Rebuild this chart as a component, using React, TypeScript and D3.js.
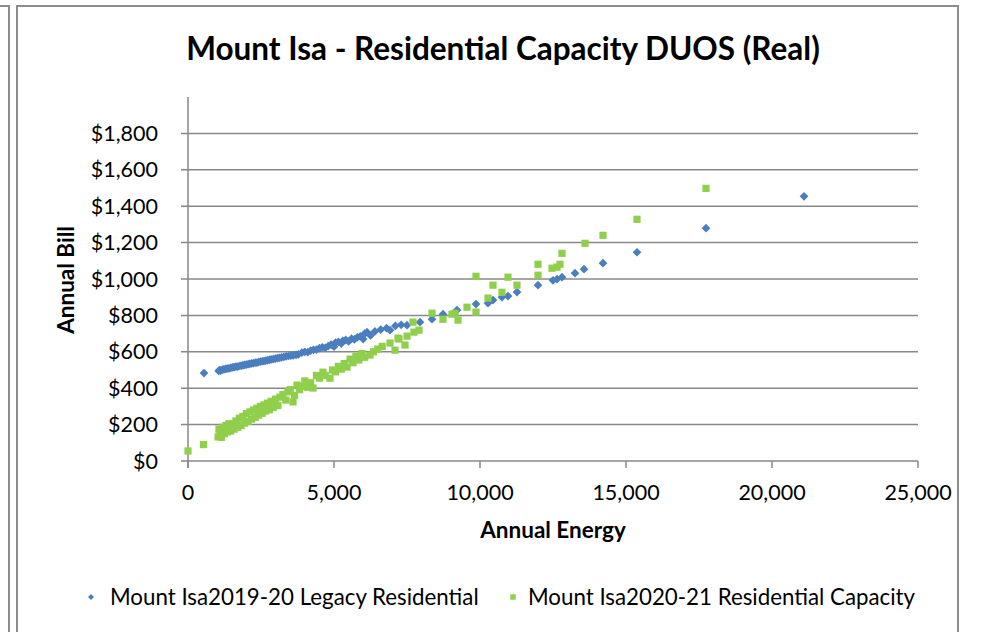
import React from "react";
import * as d3 from "d3";

const title = "Mount Isa - Residential Capacity DUOS (Real)";
const xLabel = "Annual Energy";
const yLabel = "Annual Bill";
const seriesNames = ["Mount Isa2019-20 Legacy Residential", "Mount Isa2020-21 Residential Capacity"];
const xTicks = [0, 5000, 10000, 15000, 20000, 25000];
const yTicks = [0, 200, 400, 600, 800, 1000, 1200, 1400, 1600, 1800];

// 2019-20 legacy residential: [annual energy, annual bill]
const legacy: [number, number][] = [
  [548, 483],
  [1050, 495], [1090, 500], [1120, 497], [1180, 502], [1230, 504], [1290, 506], [1340, 508],
  [1400, 509], [1460, 512], [1520, 514], [1580, 516], [1640, 518], [1700, 519], [1760, 522],
  [1820, 524], [1880, 526], [1940, 528], [2000, 529], [2060, 532], [2120, 534], [2180, 536],
  [2240, 537], [2300, 540], [2360, 541], [2420, 544], [2480, 546], [2540, 548], [2600, 549],
  [2660, 552], [2720, 553], [2790, 556], [2850, 558], [2920, 560], [2990, 562], [3060, 565],
  [3130, 567], [3200, 569], [3280, 572], [3360, 575], [3440, 577], [3520, 579], [3600, 580],
  [3700, 583], [3780, 586], [3900, 595], [4000, 600], [4100, 598], [4200, 606], [4300, 611],
  [4400, 612], [4500, 620], [4600, 625], [4700, 622], [4800, 631], [4900, 640], [5000, 628],
  [5050, 650], [5150, 655], [5250, 645], [5300, 660], [5400, 665], [5500, 657], [5600, 672],
  [5700, 668], [5800, 680], [5900, 685], [6000, 670], [6050, 700], [6130, 708], [6250, 690],
  [6400, 712], [6600, 722], [6800, 730], [6918, 719], [7100, 742], [7300, 748], [7500, 746],
  [7945, 763], [8356, 779], [8733, 807], [9212, 829], [9863, 862], [10274, 867], [10445, 884],
  [10753, 900], [10959, 906], [11267, 928], [11986, 966], [12500, 993], [12637, 999],
  [12808, 1010], [13253, 1032], [13562, 1054], [14212, 1087], [15377, 1147], [17740, 1279],
  [21096, 1454],
];

// 2020-21 residential capacity: [annual energy, annual bill]
const capacity: [number, number][] = [
  [0, 55], [530, 90],
  [1030, 132], [1060, 175], [1100, 150], [1150, 130], [1200, 185], [1250, 150], [1300, 195],
  [1350, 160], [1400, 205], [1460, 165], [1520, 200], [1580, 175], [1640, 220], [1700, 185],
  [1760, 235], [1820, 195], [1880, 245], [1940, 208], [2000, 260], [2060, 218], [2120, 270],
  [2180, 230], [2240, 280], [2300, 240], [2360, 290], [2420, 252], [2480, 300], [2540, 262],
  [2600, 308], [2660, 275], [2720, 318], [2790, 282], [2850, 328], [2920, 295], [3000, 340],
  [3080, 305], [3151, 351], [3250, 365], [3350, 335], [3420, 380], [3500, 392], [3596, 325],
  [3650, 360], [3733, 417], [3820, 392], [3900, 410], [4000, 440], [4100, 405], [4200, 430],
  [4281, 401], [4400, 470], [4500, 455], [4623, 488], [4700, 470], [4863, 455], [4950, 500],
  [5050, 490], [5150, 520], [5250, 505], [5350, 535], [5445, 516], [5550, 560], [5650, 540],
  [5750, 575], [5850, 555], [5950, 590], [6050, 570], [6233, 582], [6350, 600], [6500, 615],
  [6650, 630], [6918, 648], [7089, 609], [7192, 675], [7226, 670], [7432, 637], [7500, 686],
  [7705, 763], [7740, 708], [7911, 719], [8356, 812], [8733, 779], [9041, 807], [9144, 812],
  [9247, 774], [9555, 845], [9863, 1015], [9863, 818], [10274, 895], [10445, 966],
  [10753, 927], [10959, 1010], [11267, 966], [11986, 1081], [11986, 1021], [12466, 1059],
  [12637, 1065], [12740, 1081], [12808, 1141], [13596, 1196], [14212, 1240], [15377, 1328],
  [17740, 1498],
];

const BLUE = "#4a7ebf";
const GREEN = "#8fcf4c";
const GRID = "#888888";
const FONT = "Lato, 'Open Sans', sans-serif";

export default function App() {
  const W = 985;
  const H = 632;
  const x = d3.scaleLinear().domain([0, 25000]).range([188, 918]);
  const y = d3.scaleLinear().domain([0, 2000]).range([461, 97]);
  const fmtX = d3.format(",");
  const fmtY = (v: number) => "$" + d3.format(",")(v);
  const square = d3.symbol().type(d3.symbolSquare).size(52)();
  const diamond = d3.symbol().type(d3.symbolSquare).size(38)();

  return (
    <svg
      width={W}
      height={H}
      style={{ position: "absolute", left: 0, top: 0, background: "#fff" }}
      fontFamily={FONT}
    >
      {/* chart frames */}
      <path d="M0,6 H9 V632" fill="none" stroke="#8c8c8c" strokeWidth={2} />
      <rect x={17} y={6} width={941} height={640} fill="#fff" stroke="#8c8c8c" strokeWidth={2} />

      <text x={503} y={60} textAnchor="middle" fontSize={31.5} fontWeight="bold" fill="#000">
        {title}
      </text>

      {/* gridlines and y ticks */}
      {yTicks.map((t) => (
        <g key={t}>
          <line x1={181} x2={918} y1={y(t)} y2={y(t)} stroke={GRID} strokeWidth={1.5} />
          <text x={158} y={y(t) + 7.5} textAnchor="end" fontSize={21.5} fill="#000">
            {fmtY(t)}
          </text>
        </g>
      ))}
      {/* axis line */}
      <line x1={188} x2={188} y1={97} y2={468} stroke={GRID} strokeWidth={1.5} />
      {xTicks.map((t) => (
        <g key={t}>
          <line x1={x(t)} x2={x(t)} y1={461} y2={468} stroke={GRID} strokeWidth={1.5} />
          <text x={x(t)} y={500} textAnchor="middle" fontSize={21.5} fill="#000">
            {fmtX(t)}
          </text>
        </g>
      ))}

      <text x={553} y={538} textAnchor="middle" fontSize={22.5} fontWeight="bold" fill="#000">
        {xLabel}
      </text>
      <text
        transform={`translate(74,280) rotate(-90)`}
        textAnchor="middle"
        fontSize={22.5}
        fontWeight="bold"
        fill="#000"
      >
        {yLabel}
      </text>

      {/* series */}
      <g fill={BLUE}>
        {legacy.map(([a, b], i) => (
          <path key={i} d={diamond} transform={`translate(${x(a)},${y(b)}) rotate(45)`} />
        ))}
      </g>
      <g fill={GREEN}>
        {capacity.map(([a, b], i) => (
          <path key={i} d={square} transform={`translate(${x(a)},${y(b)})`} />
        ))}
      </g>

      {/* legend */}
      <path d={d3.symbol().type(d3.symbolSquare).size(18)()} transform="translate(91,597) rotate(45)" fill={BLUE} />
      <text x={110} y={605} fontSize={22.3} fill="#000">
        {seriesNames[0]}
      </text>
      <path d={d3.symbol().type(d3.symbolSquare).size(30)()} transform="translate(513,597)" fill={GREEN} />
      <text x={528} y={605} fontSize={22.3} fill="#000">
        {seriesNames[1]}
      </text>
    </svg>
  );
}
